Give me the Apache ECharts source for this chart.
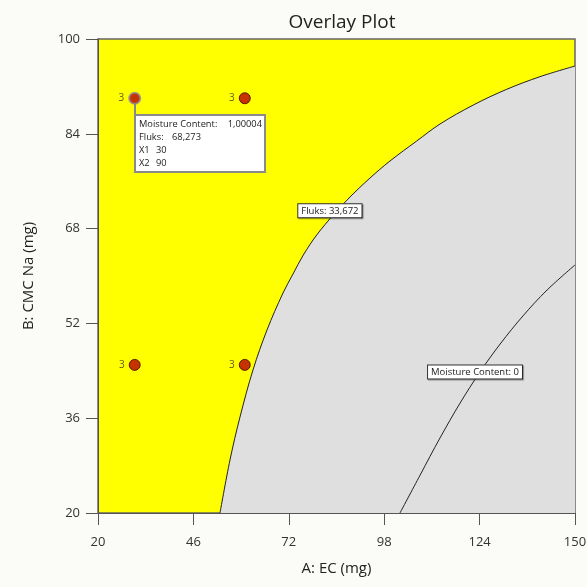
<!DOCTYPE html>
<html><head><meta charset="utf-8">
<script src="https://cdn.jsdelivr.net/npm/echarts@6/dist/echarts.min.js"></script>
<style>html,body{margin:0;padding:0;background:#fbfbf7}#c{width:587px;height:587px}</style>
</head><body><div id="c"></div>
<script>
const xTicks = [20, 46, 72, 98, 124, 150];
const yTicks = [20, 36, 52, 68, 84, 100];
const fluksCurve = [[53.25,20],[55.97,28.95],[58.7,36.2],[62.24,44.14],[66.06,50.89],[70.42,57.13],[73.15,60.34],[75.95,63.54],[79.6,66.92],[84.13,70.3],[88.68,73.33],[94.13,76.54],[99.58,79.41],[106.86,82.78],[113.21,85.65],[122.29,88.86],[131.39,91.51],[140.46,93.64],[150,95.44]];
const moistureCurve = [[102.3,20],[107.8,26.41],[113.2,32.66],[118.7,38.57],[124.1,43.8],[129.6,48.52],[135.8,53.25],[142.4,57.64],[150,61.86]];
const designPoints = [[30,90],[60,90],[30,45],[60,45]];
const pointCounts = ['3','3','3','3'];
const fluksLabel = {text: 'Fluks: 33,672', at: [83.2, 71.0]};
const moistureLabel = {text: 'Moisture Content: 0', at: [122.75, 43.8]};
const probe = {at: [30, 90], rows: [['Moisture Content:', '1,00004'], ['Fluks:', '68,273'], ['X1', '30'], ['X2', '90']]};

const FONT = '"Open Sans", "Noto Sans", sans-serif';
const chart = echarts.init(document.getElementById('c'), null, {renderer: 'canvas'});
const boxLabel = {
  show: true, position: 'inside', fontFamily: FONT, fontSize: 9.5, color: '#222',
  backgroundColor: '#ffffff', borderColor: '#333', borderWidth: 1, padding: [2, 3, 1, 3],
  shadowColor: 'rgba(0,0,0,0.35)', shadowOffsetX: 1, shadowOffsetY: 1, shadowBlur: 1
};
chart.setOption({
  backgroundColor: '#fbfbf7',
  animation: false,
  title: {text: 'Overlay Plot', left: 337, top: 8, textAlign: 'center',
    textStyle: {fontFamily: FONT, fontSize: 19, fontWeight: 'normal', color: '#222'}},
  grid: {left: 98, right: 12, top: 39, bottom: 74, containLabel: false, outerBoundsMode: 'none',
    show: true, backgroundColor: '#ffff00', borderColor: '#666', borderWidth: 1.5},
  xAxis: {type: 'value', min: xTicks[0], max: xTicks[xTicks.length-1], interval: xTicks[1]-xTicks[0],
    name: 'A: EC (mg)', nameLocation: 'middle', nameGap: 48,
    nameTextStyle: {fontFamily: FONT, fontSize: 15, color: '#222'},
    axisLine: {show: true, lineStyle: {color: '#555', width: 1}},
    axisTick: {show: true, length: 12, lineStyle: {color: '#555'}},
    axisLabel: {fontFamily: FONT, fontSize: 13, color: '#333', margin: 23},
    splitLine: {show: false}},
  yAxis: {type: 'value', min: yTicks[0], max: yTicks[yTicks.length-1], interval: yTicks[1]-yTicks[0],
    name: 'B: CMC Na (mg)', nameLocation: 'middle', nameGap: 62, nameRotate: 90,
    nameTextStyle: {fontFamily: FONT, fontSize: 15, color: '#222'},
    axisLine: {show: true, lineStyle: {color: '#555', width: 1}},
    axisTick: {show: true, length: 12, lineStyle: {color: '#555'}},
    axisLabel: {fontFamily: FONT, fontSize: 13, color: '#333', margin: 18, padding: [0, 0, 6, 0]},
    splitLine: {show: false}},
  series: [
    {type: 'line', data: fluksCurve, smooth: 0.35, showSymbol: false, silent: true,
      lineStyle: {color: '#222', width: 1}, areaStyle: {color: '#dfdfdf', opacity: 1, origin: 'start'},
      markPoint: {symbol: 'rect', symbolSize: 1, itemStyle: {color: 'rgba(0,0,0,0)'},
        label: Object.assign({formatter: fluksLabel.text}, boxLabel),
        data: [{coord: fluksLabel.at}]}},
    {type: 'line', data: moistureCurve, smooth: 0.35, showSymbol: false, silent: true,
      lineStyle: {color: '#222', width: 1},
      markPoint: {symbol: 'rect', symbolSize: 1, itemStyle: {color: 'rgba(0,0,0,0)'},
        label: Object.assign({formatter: moistureLabel.text}, boxLabel),
        data: [{coord: moistureLabel.at}]}},
    {type: 'scatter', symbolSize: 11, z: 5,
      data: designPoints.map((p, i) => ({value: p, label: {formatter: pointCounts[i]},
        itemStyle: i === 0 ? {borderColor: '#8d8596', borderWidth: 2} : {}})),
      itemStyle: {color: '#b80000', borderColor: '#3a0000', borderWidth: 1},
      label: {show: true, position: 'left', distance: 4, fontFamily: FONT, fontSize: 10, color: '#333'}}
  ]
});

function drawProbe() {
  const p = chart.convertToPixel({gridIndex: 0}, probe.at);
  const bx = Math.round(p[0]), by = Math.round(p[1]) + 17;
  const w = 130, h = 57;
  const F = '9.3px ' + FONT;
  const children = [
    {type: 'line', shape: {x1: bx, y1: p[1] + 5, x2: bx, y2: by}, style: {stroke: '#888', lineWidth: 2}},
    {type: 'rect', shape: {x: bx, y: by, width: w, height: h}, style: {fill: '#fff', stroke: '#8a8a8a', lineWidth: 2}}
  ];
  const valX = [null, bx + 37, bx + 21, bx + 21];
  probe.rows.forEach((r, i) => {
    const y = by + 9 + i * 13;
    children.push({type: 'text', style: {x: bx + 4, y: y, text: r[0], font: F, fill: '#222', verticalAlign: 'middle'}});
    if (i === 0) {
      children.push({type: 'text', style: {x: bx + w - 3, y: y, text: r[1], font: F, fill: '#222', verticalAlign: 'middle', align: 'right'}});
    } else {
      children.push({type: 'text', style: {x: valX[i], y: y, text: r[1], font: F, fill: '#222', verticalAlign: 'middle'}});
    }
  });
  chart.setOption({graphic: [{type: 'group', z: 10, children: children}]});
}
drawProbe();
</script></body></html>
